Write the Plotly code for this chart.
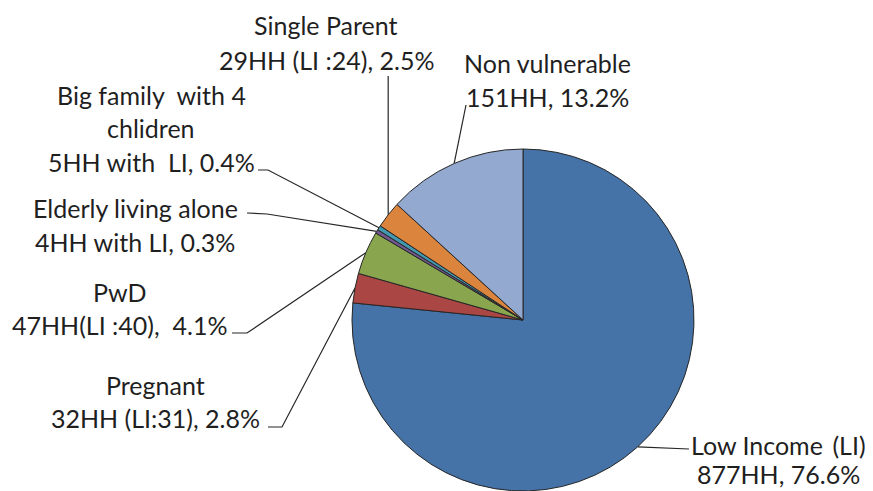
import numpy as np
import plotly.graph_objects as go

# ---------------- data ----------------
categories = ["Low Income (LI)", "Pregnant", "PwD", "Elderly living alone",
              "Big family with 4 chlidren", "Single Parent", "Non vulnerable"]
households = [877, 32, 47, 4, 5, 29, 151]
label_lines = [
    ["Low Income\u2009 (LI)", "877HH, 76.6%"],
    ["Pregnant", "32HH (LI:31), 2.8%"],
    ["PwD", "47HH(LI :40),\u00a0 4.1%"],
    ["Elderly living alone", "4HH with LI, 0.3%"],
    ["Big family\u00a0 with 4", "chlidren", "5HH with\u00a0 LI, 0.4%"],
    ["Single Parent", "29HH (LI :24), 2.5%"],
    ["Non vulnerable", "151HH, 13.2%"],
]

# ---------------- layout / style ----------------
PAGE_W, PAGE_H = 873, 491
OFF = 8                      # default page body margin
W, H = PAGE_W - OFF, PAGE_H - OFF
CX, CY, R = 523, 320, 171    # pie centre / radius in page pixels
colors = ["#4572A7", "#AA4643", "#89A54E", "#71588F", "#4198AF", "#DB843D", "#93A9CF"]
FONT = "Lato"
FSIZE = 25
TXT = "#1f1f1f"

# label placement (page pixel centres of each text line)
label_pos = [
    (778, [445, 474]),
    (155, [385, 418]),
    (119, [292, 325]),
    (135, [208, 242]),
    (151, [95, 128, 162]),
    (326, [25, 60]),
    (547, [63, 97]),
]
# leader line elbow points (from label side to slice)
leader_pts = [
    [(689, 449)],
    [(268, 427), (282, 427)],
    [(232, 333), (247, 333)],
    [(247, 213), (267, 214)],
    [(258, 170), (268, 170)],
    [(None, 76)],
    [(466, 105)],
]

fig = go.Figure()

fig.add_trace(go.Pie(
    labels=categories, values=households, sort=False, direction="clockwise",
    rotation=0, textinfo="none", hoverinfo="label+value+percent",
    marker=dict(colors=colors, line=dict(color="#262626", width=1)),
    domain=dict(x=[(CX - R - OFF) / W, (CX + R - OFF) / W],
                y=[(PAGE_H - CY - R) / H, (PAGE_H - CY + R) / H]),
    showlegend=False,
))

total = float(sum(households))
cum = 0.0
for i, v in enumerate(households):
    mid = (cum + v / 2) / total
    cum += v
    ang = 2 * np.pi * mid
    ex = CX + R * np.sin(ang)
    ey = CY - R * np.cos(ang)
    pts = [(ex if px is None else px, py) for px, py in leader_pts[i]]
    xs = [p[0] for p in pts] + [ex]
    ys = [p[1] for p in pts] + [ey]
    fig.add_trace(go.Scatter(x=xs, y=ys, mode="lines",
                             line=dict(color="#262626", width=1.2),
                             hoverinfo="skip", showlegend=False))
    lx, lys = label_pos[i]
    for txt, ly in zip(label_lines[i], lys):
        fig.add_annotation(x=lx, y=ly, xref="x", yref="y", text=txt,
                           showarrow=False, xanchor="center", yanchor="middle",
                           font=dict(family=FONT, size=FSIZE, color=TXT))

fig.update_layout(
    width=W, height=H, margin=dict(l=0, r=0, t=0, b=0),
    paper_bgcolor="white", plot_bgcolor="white",
    xaxis=dict(range=[OFF, PAGE_W], visible=False, fixedrange=True),
    yaxis=dict(range=[PAGE_H, OFF], visible=False, fixedrange=True),
)

fig.write_html("out.html")
